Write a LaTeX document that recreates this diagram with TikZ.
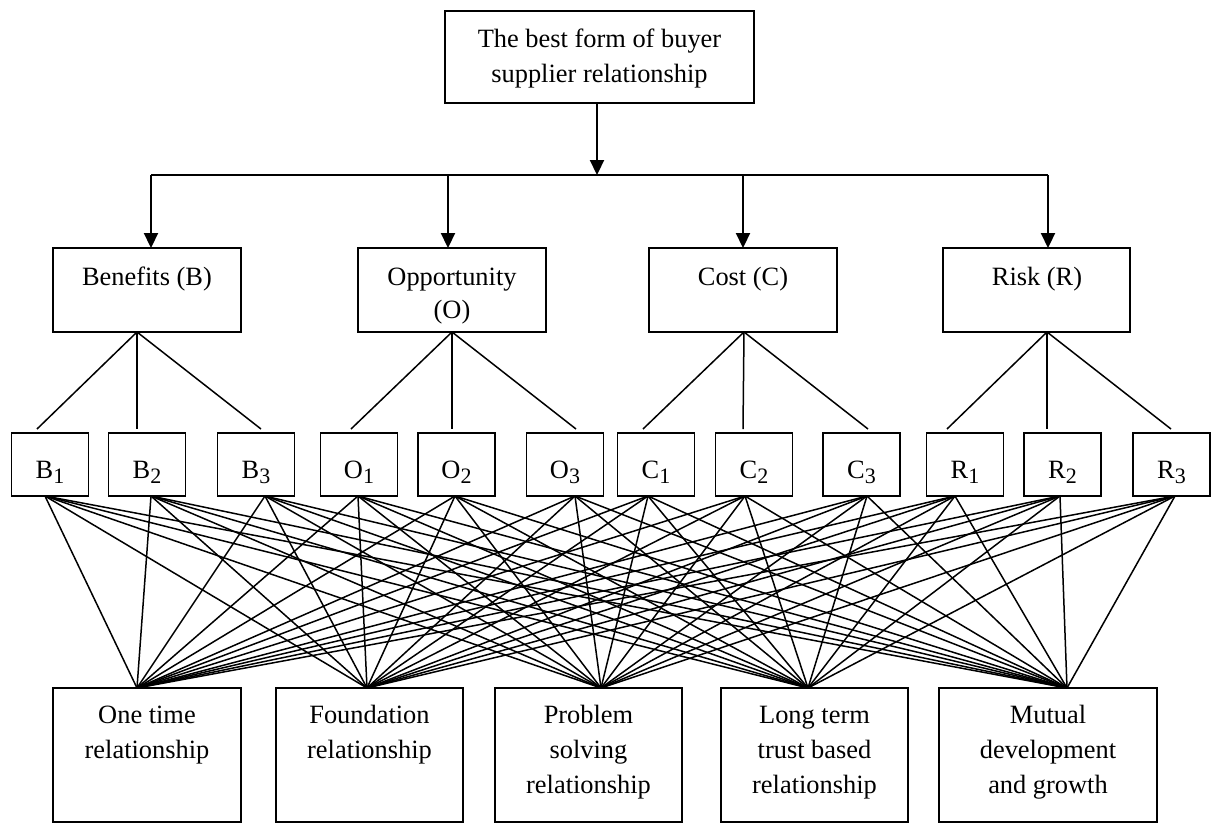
\documentclass[tikz,border=0pt]{standalone}
\usepackage{fontspec}
\setmainfont{Liberation Serif}
\usetikzlibrary{arrows.meta}
\newcommand{\fs}{\fontsize{26.4}{35}\selectfont}
\newcommand{\sbs}[1]{\raisebox{-5pt}{\fontsize{22}{22}\selectfont #1}}
\begin{document}
\begin{tikzpicture}[x=1pt,y=-1pt,
  box/.style={draw, line width=1.7pt, inner sep=0pt, outer sep=0pt},
  txt/.style={font=\fs, align=center, inner sep=0pt, anchor=base},
  thinline/.style={line width=1.5pt},
  arr/.style={line width=2.2pt, -{Triangle[length=15pt,width=14pt]}},
  hline/.style={line width=2.2pt},
  midbox/.style={box, minimum width=188, minimum height=84},
  critbox/.style={box, minimum width=77, minimum height=63},
  altbox/.style={box, minimum width=187, minimum height=134}
]
\useasboundingbox (0,0) rectangle (1211,823);

% top box
\node[box, minimum width=309, minimum height=92] (Top) at (599.5,57) {};
\node[txt] (TopT) at (599.5,82) {The best form of buyer\\supplier relationship};

% middle boxes
\node[midbox] (Ben) at (147,290) {};
\node[midbox] (Opp) at (452,290) {};
\node[midbox] (Cost) at (743,290) {};
\node[midbox, minimum width=187] (Risk) at (1036.5,290) {};
\node[txt] (BenT) at (147,285) {Benefits (B)};
\node[txt, font=\fontsize{26.4}{33}\selectfont] (OppT) at (452,318) {Opportunity\\(O)};
\node[txt] (CostT) at (743,285) {Cost (C)};
\node[txt] (RiskT) at (1037,285) {Risk (R)};

% criteria boxes
\foreach \n/\cx/\l/\s in {B1/50/B/1, B2/147/B/2, B3/256/B/3,
  O1/359/O/1, O2/456.5/O/2, O3/565/O/3,
  C1/656/C/1, C2/754/C/2, C3/861.5/C/3,
  R1/965/R/1, R2/1062.5/R/2, R3/1171.5/R/3}{
  \node[critbox] (\n) at (\cx,464.5) {};
  \node[txt] (\n T) at (\cx,478) {\l\sbs{\s}};
}

% alternative boxes
\node[altbox, minimum width=188] (A1) at (147,755) {};
\node[altbox] (A2) at (369.5,755) {};
\node[altbox] (A3) at (588.5,755) {};
\node[altbox] (A4) at (814.5,755) {};
\node[altbox, minimum width=218] (A5) at (1048,755) {};
\node[txt] (A1T) at (147,758) {One time\\relationship};
\node[txt] (A2T) at (369.5,758) {Foundation\\relationship};
\node[txt] (A3T) at (588.5,793) {Problem\\solving\\relationship};
\node[txt] (A4T) at (814.5,793) {Long term\\trust based\\relationship};
\node[txt] (A5T) at (1048,793) {Mutual\\development\\and growth};

% top arrows
\coordinate (J) at (597,175);
\coordinate (hB) at (151,175);
\coordinate (hO) at (448,175);
\coordinate (hC) at (743,175);
\coordinate (hR) at (1048,175);
\draw[arr] (Top.south -| J) -- (J);
\draw[hline] (hB) -- (hR);
\draw[arr] (hB) -- (hB |- Ben.north);
\draw[arr] (hO) -- (hO |- Opp.north);
\draw[arr] (hC) -- (hC |- Cost.north);
\draw[arr] (hR) -- (hR |- Risk.north);

% mid to criteria
\foreach \m/\ap/\c/\dx in {Ben/-10/B1/-13, Ben/-10/B2/-10, Ben/-10/B3/5,
  Opp/0/O1/-8, Opp/0/O2/-4.5, Opp/0/O3/11,
  Cost/1/C1/-13, Cost/1/C2/-11, Cost/1/C3/6.5,
  Risk/10.5/R1/-18, Risk/10.5/R2/-15.5, Risk/10.5/R3/-0.5}{
  \draw[thinline] ([xshift=\ap pt]\m.south) -- ([xshift=\dx pt, yshift=4pt]\c.north);
}

% criteria to alternatives
\foreach \c/\dx in {B1/-5, B2/4, B3/9, O1/-1, O2/-1.5, O3/10, C1/-8, C2/-9, C3/5.5, R1/-10, R2/-2.5, R3/3.5}{
  \foreach \a/\ax in {A1/-10, A2/-2.5, A3/12.5, A4/-6.5, A5/19}{
    \draw[thinline] ([xshift=\dx pt]\c.south) -- ([xshift=\ax pt]\a.north);
  }
}
\end{tikzpicture}
\end{document}
